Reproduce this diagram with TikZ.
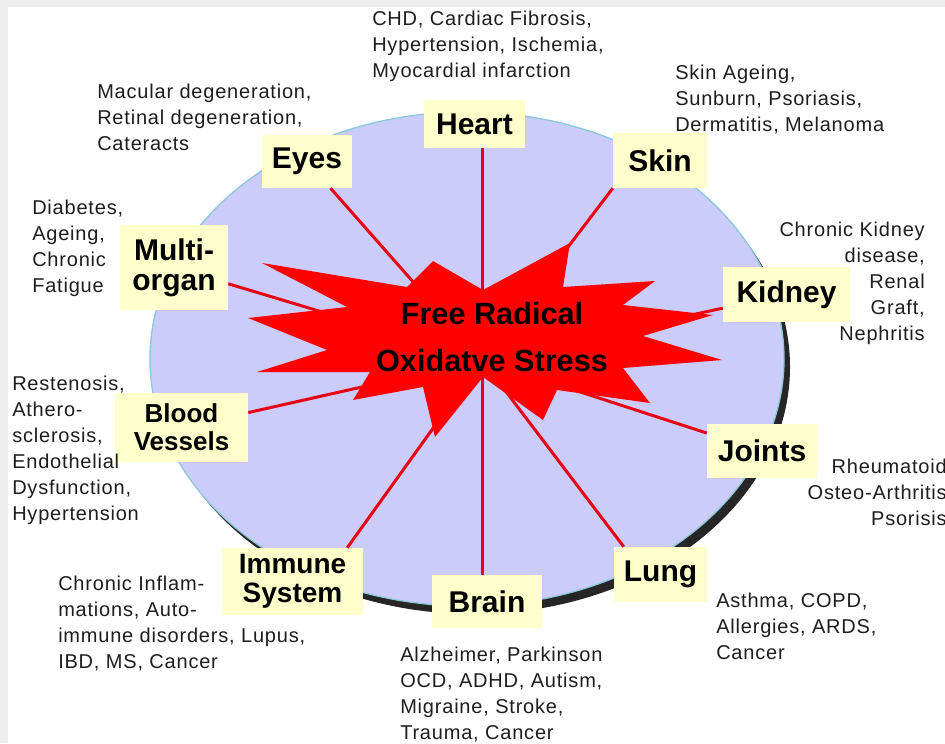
\documentclass[tikz,border=0pt]{standalone}
\usepackage{fontspec}
\setmainfont{Liberation Sans}
\newfontfamily\illfont[LetterSpace=4]{Liberation Sans}
\definecolor{boxyellow}{RGB}{255,255,204}
\definecolor{lavender}{RGB}{204,204,250}
\definecolor{rimblue}{RGB}{140,200,215}
\definecolor{linkred}{RGB}{232,0,20}
\definecolor{textgray}{RGB}{30,30,30}
\definecolor{edgegray}{RGB}{238,238,238}
\begin{document}
\begin{tikzpicture}[
  x=0.75pt, y=-0.75pt,
  organ/.style={fill=boxyellow, inner sep=0pt, align=center, font=\bfseries\fontsize{22.5}{22.5}\selectfont},
  ill/.style={anchor=north west, inner sep=0pt, align=left, text=textgray, font=\illfont\fontsize{15}{19.5}\selectfont},
  illr/.style={ill, anchor=north east, align=right},
  link/.style={draw=linkred, line width=2.25pt}
]
\fill[edgegray] (0,0) rectangle (945,743);
\fill[white] (8,7) rectangle (945,743);
\useasboundingbox (0,0) rectangle (945,743);

\fill[black, opacity=0.85] (473,367) ellipse [x radius=317, y radius=247];
\draw[rimblue, fill=lavender, line width=1pt] (467,359) ellipse [x radius=317, y radius=247];

\node[organ, minimum width=75.75pt, minimum height=36pt] (heart) at (474.5,124) {Heart};
\node[organ, minimum width=67.5pt, minimum height=39.75pt] (eyes) at (307,161.5) {Eyes};
\node[organ, minimum width=70.5pt, minimum height=41.25pt] (skin) at (660,160.5) {Skin};
\node[organ, minimum width=81pt, minimum height=63.75pt] (multi) at (174,267.5) {Multi-\\organ};
\node[organ, minimum width=95.25pt, minimum height=41.25pt] (kidney) at (786.5,294.5) {Kidney};
\node[organ, minimum width=99.75pt, minimum height=51.75pt, font=\bfseries\fontsize{19.5}{21}\selectfont] (blood) at (181.5,427.5) {Blood\\Vessels};
\node[organ, minimum width=82.5pt, minimum height=40.5pt] (joints) at (762,451) {Joints};
\node[organ, minimum width=105.75pt, minimum height=50.25pt, font=\bfseries\fontsize{21}{21.5}\selectfont] (immune) at (292.5,581.5) {Immune\\System};
\node[organ, minimum width=82.5pt, minimum height=39.75pt] (brain) at (487,601.5) {Brain};
\node[organ, minimum width=69.75pt, minimum height=41.25pt] (lung) at (660.5,574.5) {Lung};

\coordinate (hub) at (482,360);
\draw[link] (hub) -- (hub |- heart.south);
\draw[link] (hub) -- (hub |- brain.north);
\draw[link] (hub) -- (eyes);
\draw[link] (hub) -- (skin.south west);
\draw[link] (hub) -- (multi);
\draw[link] (hub) -- (kidney);
\draw[link] (hub) -- (blood);
\draw[link] (hub) -- (joints);
\draw[link] (hub) -- ([xshift=-12pt]immune.north east);
\draw[link] (hub) -- ([xshift=7.5pt]lung.north west);

\fill[red] (433,261) -- (483,290) -- (570,243) -- (563,287) -- (655,281) -- (623,305)
  -- (713,315) -- (643,336) -- (722,360) -- (623,368) -- (650,403) -- (557,390)
  -- (543,420) -- (483,377) -- (435,437) -- (423,387) -- (353,400) -- (370,372)
  -- (257,372) -- (327,350) -- (248,318) -- (347,307) -- (262,263) -- (407,287) -- cycle;
\node[align=center, font=\bfseries\fontsize{23}{35}\selectfont] (stress) at (492,337) {Free Radical\\Oxidatve Stress};

\node[ill] (heartTxt) at (372,11) {CHD, Cardiac Fibrosis,\\Hypertension, Ischemia,\\Myocardial infarction};
\node[ill] (eyesTxt) at (97,84) {Macular degeneration,\\Retinal degeneration,\\Cateracts};
\node[ill] (skinTxt) at (675,65) {Skin Ageing,\\Sunburn, Psoriasis,\\Dermatitis, Melanoma};
\node[ill] (multiTxt) at (32,200) {Diabetes,\\Ageing,\\Chronic\\Fatigue};
\node[illr] (kidneyTxt) at (925,222) {Chronic Kidney\\disease,\\Renal\\Graft,\\Nephritis};
\node[ill] (bloodTxt) at (12,376) {Restenosis,\\Athero-\\sclerosis,\\Endothelial\\Dysfunction,\\Hypertension};
\node[illr] (jointsTxt) at (947,459) {Rheumatoid\\Osteo-Arthritis\\Psorisis};
\node[ill] (immuneTxt) at (58,576) {Chronic Inflam-\\mations, Auto-\\immune disorders, Lupus,\\IBD, MS, Cancer};
\node[ill] (brainTxt) at (400,647) {Alzheimer, Parkinson\\OCD, ADHD, Autism,\\Migraine, Stroke,\\Trauma, Cancer};
\node[ill] (lungTxt) at (716,593) {Asthma, COPD,\\Allergies, ARDS,\\Cancer};
\end{tikzpicture}
\end{document}
